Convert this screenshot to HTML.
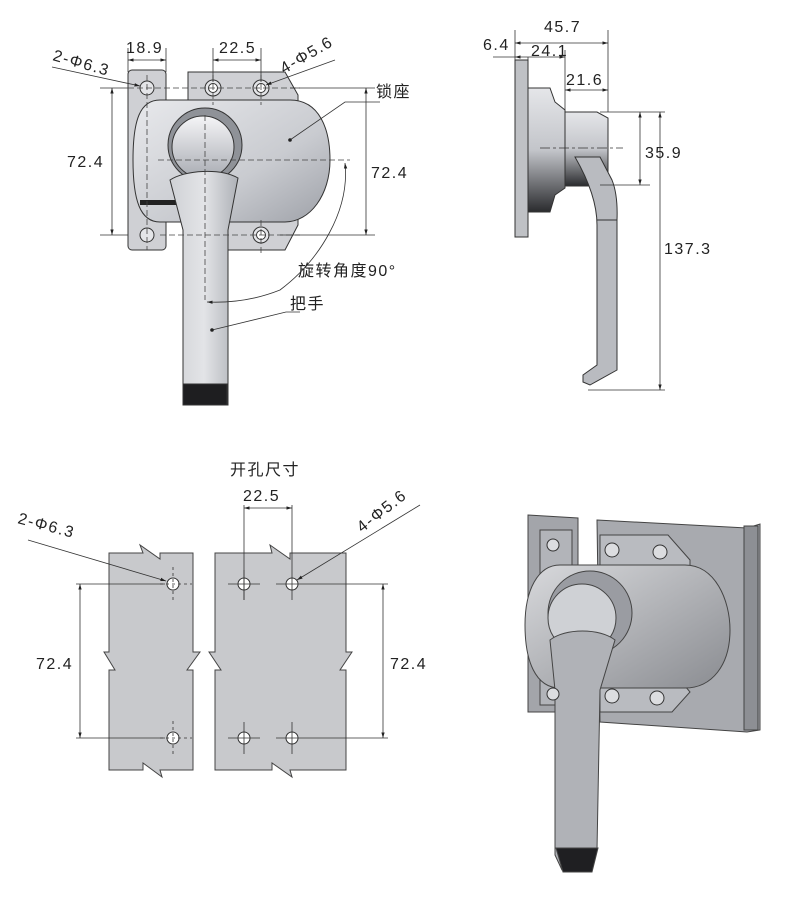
<!DOCTYPE html>
<html><head><meta charset="utf-8">
<style>
html,body{margin:0;padding:0;background:#fff;}
svg{display:block;}
text{font-family:"Liberation Sans","Noto Sans CJK SC",sans-serif;fill:#222;font-size:16px;letter-spacing:1.5px;}
</style></head>
<body>
<svg width="788" height="900" viewBox="0 0 788 900" xmlns="http://www.w3.org/2000/svg">
<defs>
<marker id="a" viewBox="0 0 10 10" refX="10" refY="5" markerWidth="7" markerHeight="7" orient="auto-start-reverse"><path d="M0,2 L10,5 L0,8z" fill="#222"/></marker>
<linearGradient id="body" x1="0" y1="0" x2="1" y2="1"><stop offset="0" stop-color="#e8e9ec"/><stop offset="0.6" stop-color="#c9cbd0"/><stop offset="1" stop-color="#9ea1a8"/></linearGradient>
<linearGradient id="knob" x1="0" y1="0" x2="0" y2="1"><stop offset="0" stop-color="#f5f5f7"/><stop offset="1" stop-color="#a9acb3"/></linearGradient>
<linearGradient id="hand" x1="0" y1="0" x2="1" y2="0"><stop offset="0" stop-color="#cfd1d5"/><stop offset="0.5" stop-color="#e3e4e7"/><stop offset="1" stop-color="#aeb1b7"/></linearGradient>
<linearGradient id="cyl" x1="0" y1="0" x2="0" y2="1"><stop offset="0" stop-color="#e5e6e9"/><stop offset="0.5" stop-color="#c3c5ca"/><stop offset="1" stop-color="#2a2b2e"/></linearGradient>
<linearGradient id="d3" x1="0" y1="0" x2="1" y2="1"><stop offset="0" stop-color="#d8d9dc"/><stop offset="1" stop-color="#8a8c91"/></linearGradient>
</defs>

<!-- ===== TOP-LEFT FRONT VIEW ===== -->
<g stroke="#333" stroke-width="1">
<rect x="128" y="70" width="38" height="180" rx="4" fill="#cfd0d4"/>
<path d="M188,72 H285 L298,95 V110 L188,110 Z" fill="#cfd0d4"/>
<path d="M228,212 H298 V225 L285,250 H228 Z" fill="#cfd0d4"/>
<path d="M160,100 H290 C320,100 330,130 330,160 C330,195 310,222 285,222 H160 C140,222 133,200 133,160 C133,120 140,100 160,100 Z" fill="url(#body)"/>
<rect x="140" y="200" width="40" height="5" fill="#222" stroke="none"/>
<circle cx="205" cy="145" r="37" fill="#8f9298"/>
<circle cx="203" cy="147" r="31" fill="url(#knob)"/>
<path d="M170,180 C185,170 220,168 238,178 L228,230 V405 H183 V230 Z" fill="url(#hand)"/>
<rect x="183" y="384" width="44" height="21" fill="#1e1e20"/>
</g>
<g fill="#e4e5e8" stroke="#333">
<circle cx="147" cy="88" r="7"/><circle cx="213" cy="88" r="8"/><circle cx="261" cy="88" r="8"/>
<circle cx="147" cy="235" r="7"/><circle cx="261" cy="235" r="8"/>
</g>
<g fill="#fff" stroke="#333"><circle cx="213" cy="88" r="4.5"/><circle cx="261" cy="88" r="4.5"/><circle cx="261" cy="235" r="4.5"/></g>
<g stroke="#444" stroke-width="0.8" stroke-dasharray="6,3" fill="none">
<line x1="128" y1="88" x2="300" y2="88"/><line x1="160" y1="235" x2="300" y2="235"/>
<line x1="147" y1="75" x2="147" y2="250"/><line x1="213" y1="75" x2="213" y2="105"/><line x1="261" y1="75" x2="261" y2="105"/><line x1="261" y1="220" x2="261" y2="255"/>
<line x1="158" y1="160" x2="350" y2="160"/><line x1="205" y1="115" x2="205" y2="300"/>
</g>
<g stroke="#333" stroke-width="0.8" fill="none">
<line x1="128" y1="48" x2="128" y2="72"/><line x1="166" y1="48" x2="166" y2="72"/>
<line x1="128" y1="60" x2="166" y2="60" marker-start="url(#a)" marker-end="url(#a)"/>
<line x1="213" y1="48" x2="213" y2="82"/><line x1="261" y1="48" x2="261" y2="82"/>
<line x1="213" y1="60" x2="261" y2="60" marker-start="url(#a)" marker-end="url(#a)"/>
<line x1="100" y1="88" x2="128" y2="88"/><line x1="100" y1="235" x2="128" y2="235"/>
<line x1="112" y1="88" x2="112" y2="235" marker-start="url(#a)" marker-end="url(#a)"/>
<line x1="290" y1="88" x2="375" y2="88"/><line x1="280" y1="235" x2="375" y2="235"/>
<line x1="366" y1="88" x2="366" y2="235" marker-start="url(#a)" marker-end="url(#a)"/>
<line x1="52" y1="67" x2="140" y2="86" marker-end="url(#a)"/>
<line x1="335" y1="60" x2="266" y2="85" marker-end="url(#a)"/>
<polyline points="290,140 345,102 380,102"/>
<path d="M345,163 C350,210 320,260 280,290 C255,300 230,303 207,302" marker-start="url(#a)" marker-end="url(#a)"/>
<polyline points="212,330 286,312 300,312"/>
</g>
<circle cx="290" cy="140" r="1.8" fill="#222"/><circle cx="212" cy="330" r="1.8" fill="#222"/>
<text x="126" y="53">18.9</text>
<text x="219" y="53">22.5</text>
<text x="52" y="60" transform="rotate(16 52 60)">2-Φ6.3</text>
<text x="284" y="74" transform="rotate(-30 284 74)">4-Φ5.6</text>
<text x="67" y="167">72.4</text>
<text x="371" y="178">72.4</text>
<text x="376" y="97">锁座</text>
<text x="298" y="276" letter-spacing="0.5">旋转角度90°</text>
<text x="290" y="309">把手</text>

<!-- ===== TOP-RIGHT SIDE VIEW ===== -->
<g stroke="#333" stroke-width="1">
<rect x="515" y="60" width="13" height="177" fill="#bfc1c5"/>
<path d="M528,88 H550 L555,102 L565,110 V188 L555,195 L550,212 H528 Z" fill="url(#cyl)"/>
<path d="M565,112 H597 L608,118 V180 L597,186 H565 Z" fill="url(#cyl)"/>
<path d="M575,157 H600 L612,180 Q618,195 617,220 V370 L590,385 L583,382 V375 L597,365 V225 Q597,195 575,157 Z" fill="#b9bbc0"/>
<line x1="597" y1="220" x2="617" y2="220"/>
</g>
<g stroke="#333" stroke-width="0.8" fill="none">
<line x1="540" y1="148" x2="623" y2="148" stroke-dasharray="10,3,3,3"/>
<line x1="515" y1="30" x2="515" y2="60"/><line x1="608" y1="30" x2="608" y2="112"/><line x1="565" y1="50" x2="565" y2="112"/>
<line x1="515" y1="43" x2="608" y2="43" marker-start="url(#a)" marker-end="url(#a)"/>
<line x1="515" y1="57" x2="565" y2="57" marker-start="url(#a)" marker-end="url(#a)"/>
<line x1="493" y1="57" x2="515" y2="57"/><line x1="528" y1="57" x2="528" y2="60"/>
<line x1="565" y1="90" x2="608" y2="90" marker-start="url(#a)" marker-end="url(#a)"/>
<line x1="600" y1="112" x2="665" y2="112"/><line x1="600" y1="185" x2="650" y2="185"/><line x1="588" y1="390" x2="665" y2="390"/>
<line x1="640" y1="112" x2="640" y2="185" marker-start="url(#a)" marker-end="url(#a)"/>
<line x1="660" y1="112" x2="660" y2="390" marker-start="url(#a)" marker-end="url(#a)"/>
</g>
<text x="544" y="32">45.7</text>
<text x="483" y="50">6.4</text>
<text x="531" y="56">24.1</text>
<text x="566" y="85">21.6</text>
<text x="645" y="158">35.9</text>
<text x="664" y="254">137.3</text>

<!-- ===== BOTTOM-LEFT CUTOUT ===== -->
<g fill="#c8c9cc" stroke="#444" stroke-width="1">
<path d="M109,553 H143 L140,545 L160,559 V553 H193 V652 L200,652 L187,670 L193,670 V770 H160 L162,777 L143,763 V770 H109 V670 L115,670 L104,652 L109,652 Z"/>
<path d="M215,553 H272 L270,545 L290,559 V553 H346 V652 L352,652 L340,670 L346,670 V770 H290 L292,777 L272,763 V770 H215 V670 L221,670 L209,652 L215,652 Z"/>
</g>
<g fill="#fff" stroke="#333"><circle cx="173" cy="584" r="6"/><circle cx="173" cy="738" r="6"/>
<circle cx="244" cy="584" r="6"/><circle cx="292" cy="584" r="6"/><circle cx="244" cy="738" r="6"/><circle cx="292" cy="738" r="6"/></g>
<g stroke="#333" stroke-width="0.8" fill="none">
<line x1="173" y1="567" x2="173" y2="601" stroke-dasharray="3,3"/><line x1="160" y1="584" x2="192" y2="584" stroke-dasharray="3,3"/>
<line x1="173" y1="721" x2="173" y2="755" stroke-dasharray="3,3"/><line x1="160" y1="738" x2="192" y2="738" stroke-dasharray="3,3"/>
<line x1="244" y1="570" x2="244" y2="600"/><line x1="228" y1="584" x2="260" y2="584"/>
<line x1="244" y1="722" x2="244" y2="754"/><line x1="228" y1="738" x2="260" y2="738"/>
<line x1="292" y1="722" x2="292" y2="754"/><line x1="276" y1="738" x2="388" y2="738"/>
<line x1="276" y1="584" x2="388" y2="584"/>
<line x1="76" y1="584" x2="165" y2="584"/><line x1="76" y1="738" x2="165" y2="738"/>
<line x1="80" y1="584" x2="80" y2="738" marker-start="url(#a)" marker-end="url(#a)"/>
<line x1="383" y1="584" x2="383" y2="738" marker-start="url(#a)" marker-end="url(#a)"/>
<line x1="244" y1="505" x2="244" y2="600"/><line x1="292" y1="505" x2="292" y2="600"/>
<line x1="244" y1="508" x2="292" y2="508" marker-start="url(#a)" marker-end="url(#a)"/>
<line x1="28" y1="540" x2="166" y2="581" marker-end="url(#a)"/>
<line x1="420" y1="505" x2="297" y2="580" marker-end="url(#a)"/>
</g>
<text x="230" y="475">开孔尺寸</text>
<text x="243" y="501">22.5</text>
<text x="17" y="523" transform="rotate(15 17 523)">2-Φ6.3</text>
<text x="362" y="533" transform="rotate(-38 362 533)">4-Φ5.6</text>
<text x="36" y="669">72.4</text>
<text x="390" y="669">72.4</text>

<!-- ===== BOTTOM-RIGHT 3D ===== -->
<g stroke="#444" stroke-width="1">
<path d="M597,520 L747,528 L760,524 V730 L747,732 L600,722 Z" fill="#a8aaaf"/>
<rect x="744" y="526" width="14" height="204" fill="#8d8f94"/>
<path d="M528,515 L578,518 V712 L528,712 Z" fill="#a3a5aa"/>
<path d="M540,530 H572 V705 H540 Z" fill="#b2b4b9"/>
<path d="M600,535 H668 L690,560 V600 L600,600 Z" fill="#b9bbc0"/>
<path d="M600,680 H680 L690,692 L672,712 H600 Z" fill="#b9bbc0"/>
<path d="M560,565 H685 C715,565 730,600 730,630 C730,665 712,688 685,688 H560 C535,688 525,660 525,625 C525,590 538,565 560,565 Z" fill="url(#d3)"/>
<circle cx="590" cy="613" r="42" fill="#9a9ca2"/>
<circle cx="582" cy="618" r="34" fill="#cfd1d5"/>
<path d="M550,640 C565,628 600,628 615,640 L600,690 L597,850 L592,870 H562 L555,855 V690 Z" fill="#b0b2b7"/>
<path d="M556,848 H598 L592,872 H563 Z" fill="#1f1f22"/>
</g>
<g fill="#dcdde0" stroke="#333">
<circle cx="553" cy="545" r="6"/><circle cx="612" cy="550" r="7"/><circle cx="660" cy="552" r="7"/>
<circle cx="553" cy="694" r="6"/><circle cx="612" cy="696" r="7"/><circle cx="657" cy="698" r="7"/>
</g>
</svg>
</body></html>
